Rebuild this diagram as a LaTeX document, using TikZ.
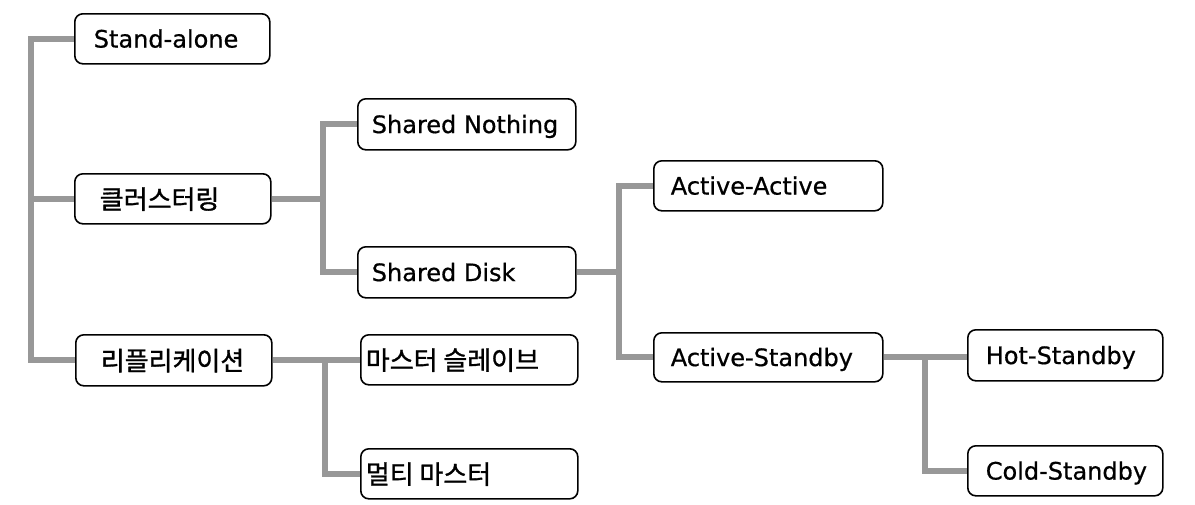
\documentclass[tikz,border=0pt]{standalone}
\usepackage{fontspec}
\usetikzlibrary{backgrounds}
\setmainfont{DejaVu Sans}[FakeBold=0.6]
\newfontfamily\krfont{Noto Sans CJK KR}[FakeBold=1.2]
\definecolor{conngray}{RGB}{152,152,152}
\newcommand{\bt}[2]{\makebox[#1][l]{#2}}
\tikzset{
  x=1pt, y=-1pt,
  box/.style={draw=black, line width=1.6pt, rounded corners=8pt, fill=white,
    anchor=north west, minimum height=#1, inner ysep=0pt,
    text height=17.5pt, text depth=0pt, font=\fontsize{24}{28}\selectfont},
  lat/.style={inner xsep=#1},
  kor/.style={inner xsep=#1, text height=20pt, font=\fontsize{26}{30}\selectfont\krfont},
  conn/.style={draw=conngray, line width=6pt, line join=miter}
}
\begin{document}
\begin{tikzpicture}
\useasboundingbox (0,0) rectangle (1195,504);
\coordinate (x0) at (31,0);
\coordinate (x1) at (323,0);
\coordinate (x2) at (619,0);
\coordinate (x3) at (325,0);
\coordinate (x4) at (925,0);
% nodes
\node[box=50pt, lat=19pt] (sa) at (74,13) {\bt{157pt}{Stand-alone}};
\node[box=50pt, kor=25pt] (cl) at (74,173) {\bt{146pt}{클러스터링}};
\node[box=51pt, kor=25pt] (rp) at (75,334) {\bt{146pt}{리플리케이션}};
\node[box=51pt, lat=14pt] (sn) at (357,98) {\bt{190pt}{Shared Nothing}};
\node[box=51pt, lat=14pt] (sd) at (357,246) {\bt{190pt}{Shared Disk}};
\node[box=50pt, kor=5pt] (ms) at (360,334) {\bt{207pt}{마스터 슬레이브}};
\node[box=50pt, kor=5pt] (mm) at (360,448) {\bt{207pt}{멀티 마스터}};
\node[box=50pt, lat=17pt] (aa) at (653,160) {\bt{195pt}{Active-Active}};
\node[box=49pt, lat=17pt] (as) at (653,332) {\bt{195pt}{Active-Standby}};
\node[box=51pt, lat=18pt] (hs) at (967,329) {\bt{159pt}{Hot-Standby}};
\node[box=50pt, lat=18pt] (cs) at (967,445) {\bt{159pt}{Cold-Standby}};
\begin{scope}[on background layer]
\fill[white] (0,0) rectangle (1195,504);
% root trunk
\draw[conn] (sa.west) -| (sa.west -| x0) |- (rp.west);
\draw[conn] (cl.west) -- (cl.west -| x0);
% clustering
\draw[conn] (cl.east) -- (cl.east -| x1);
\draw[conn] (sn.west) -| (sn.west -| x1) |- (sd.west);
% shared disk
\draw[conn] (sd.east) -- (sd.east -| x2);
\draw[conn] (aa.west) -| (aa.west -| x2) |- (as.west);
% replication
\draw[conn] (rp.east) -- (rp.east -| ms.west);
\draw[conn] (rp.east -| x3) |- (mm.west);
% active-standby
\draw[conn] (as.east) -- (as.east -| hs.west);
\draw[conn] (as.east -| x4) |- (cs.west);
\end{scope}
\end{tikzpicture}
\end{document}
